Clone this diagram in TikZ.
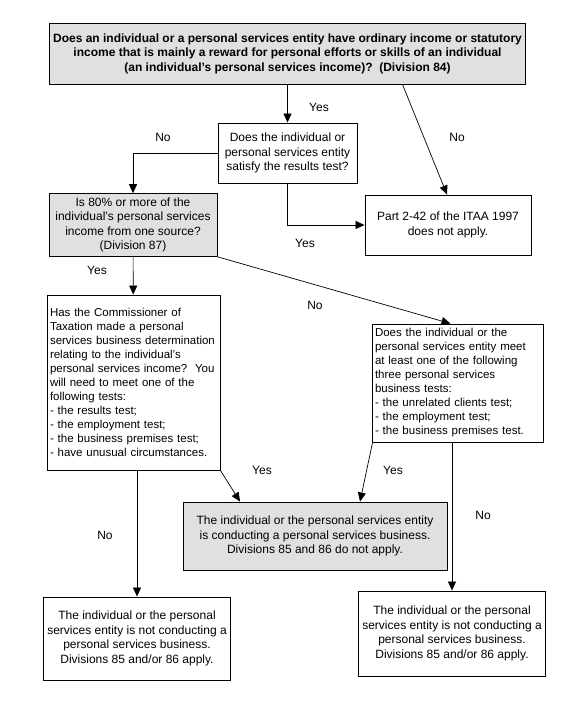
\documentclass[tikz,border=0pt]{standalone}
\usepackage{fontspec}
\setmainfont{Liberation Sans}
\usetikzlibrary{arrows.meta, positioning}

\tikzset{
  box/.style={draw, line width=0.9pt, inner sep=4pt, align=center,
    font=\fontsize{12}{14.5}\selectfont},
  greybox/.style={box, fill=black!12},
  listbox/.style={box, align=left, inner xsep=3pt,
    font=\fontsize{11.5}{14}\selectfont},
  lbl/.style={inner sep=0pt, font=\fontsize{12}{14.5}\selectfont},
  link/.style={draw, line width=0.7pt, -{Triangle[length=9pt,width=8pt]}},
}

\begin{document}
\begin{tikzpicture}[x=1pt, y=-1pt]
\useasboundingbox (0,0) rectangle (573,703);

% questions
\node[greybox, minimum width=467, minimum height=61,
  font=\fontsize{12}{14.5}\selectfont\bfseries] (q84) at (287.5,53.5)
  {Does an individual or a personal services entity have ordinary income or statutory\\
   income that is mainly a reward for personal efforts or skills of an individual\\
   (an individual's personal services income)?\ \ (Division 84)};
\node[box, minimum width=139, minimum height=60] (results) at (287.5,153)
  {Does the individual or\\ personal services entity\\ satisfy the results test?};
\node[box, minimum width=166, minimum height=60] (part) at (448,225)
  {Part 2-42 of the ITAA 1997\\ does not apply.};
\node[greybox, minimum width=168, minimum height=60] (q87) at (133,225)
  {Is 80\% or more of the\\ individual's personal services\\ income from one source?\\ (Division 87)};
\node[listbox, text width=167, minimum height=175] (commr) at (133.5,382.5)
  {Has the Commissioner of\\ Taxation made a personal\\ services business determination\\
   relating to the individual's\\ personal services income?\ \ You\\ will need to meet one of the\\
   following tests:\\ - the results test;\\ - the employment test;\\
   - the business premises test;\\ - have unusual circumstances.};
\node[listbox, text width=165, minimum height=118] (tests) at (457.5,383)
  {Does the individual or the\\ personal services entity meet\\ at least one of the following\\
   three personal services\\ business tests:\\ - the unrelated clients test;\\
   - the employment test;\\ - the business premises test.};

% outcomes
\node[greybox, minimum width=264, minimum height=68] (psb) at (315,536)
  {The individual or the personal services entity\\ is conducting a personal services business.\\
   Divisions 85 and 86 do not apply.};
\node[box, minimum width=180, minimum height=83] (notL) at (137,638.5)
  {The individual or the personal\\ services entity is not conducting a\\
   personal services business.\\ Divisions 85 and/or 86 apply.};
\node[box, minimum width=180, minimum height=85] (notR) at (452,633.5)
  {The individual or the personal\\ services entity is not conducting a\\
   personal services business.\\ Divisions 85 and/or 86 apply.};

% connectors
\path[link] (q84) -- (results);
\path[link] ([xshift=115]q84.south) -- ([xshift=-1]part.north);
\path[link] (results.west) -| (q87.north);
\path[link] (results.south) |- (part.west);
\path[link] (q87) -- (commr);
\path[link] (q87.south east) -- ([xshift=-7]tests.north);
\path[link] (notL.north |- commr.south) -- (notL.north);
\path[link] (commr.south east) -- ([xshift=-75]psb.north);
\path[link] ([xshift=1]tests.south west) -- ([xshift=45]psb.north);
\path[link] (notR.north |- tests.south) -- (notR.north);

% labels
\node[lbl] (yes84) at (319,107) {Yes};
\node[lbl] (no84) at (457,137) {No};
\node[lbl] (nores) at (163,137) {No};
\node[lbl] (yesres) at (305,243) {Yes};
\node[lbl] (yes87) at (97,270) {Yes};
\node[lbl] (no87) at (315,305) {No};
\node[lbl] (yescom) at (262,470) {Yes};
\node[lbl] (yestest) at (393,470) {Yes};
\node[lbl] (nocom) at (105,535) {No};
\node[lbl] (notest) at (483,515) {No};
\end{tikzpicture}
\end{document}
